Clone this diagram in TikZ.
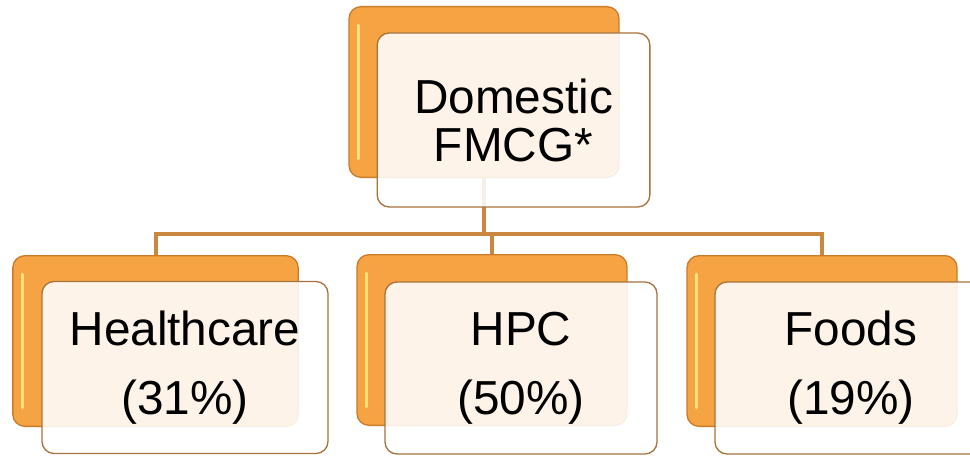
\documentclass[tikz,border=0pt]{standalone}
\usepackage{fontspec}
\setmainfont{Liberation Sans}
\definecolor{boxorange}{HTML}{F6A443}
\definecolor{orangeedge}{HTML}{C97B2A}
\definecolor{frontedge}{HTML}{A8733C}
\definecolor{linkbrown}{HTML}{C9873F}
\definecolor{glowyellow}{HTML}{FFE27A}

\begin{document}
\begin{tikzpicture}[x=0.75pt,y=-0.75pt,
    backbox/.style={draw=orangeedge, line width=1pt, fill=boxorange,
      rounded corners=9pt, minimum width=202.5pt, minimum height=128pt,
      path picture={\draw[glowyellow, line width=2.5pt, line cap=round]
        ([xshift=7pt,yshift=-14pt]path picture bounding box.north west) --
        ([xshift=7pt,yshift=14pt]path picture bounding box.south west);}},
    frontbox/.style={draw=frontedge, line width=1pt, fill=white,
      fill opacity=0.88, text opacity=1, rounded corners=9pt,
      minimum width=204pt, minimum height=129pt, align=center,
      font=\fontsize{35.8}{51.75}\selectfont},
    link/.style={draw=linkbrown, line width=3pt}]
  \useasboundingbox (0,0) rectangle (970,456);
  \clip (0,0) rectangle (970,456);

  % back boxes
  \node[backbox] (dombk) at (484,92) {};
  \node[backbox, minimum width=214pt] (hcbk) at (155.5,341) {};
  \node[backbox] (hpcbk) at (492,340) {};
  \node[backbox] (fdbk) at (822,341) {};

  % connectors
  \coordinate (bar) at (484,234);
  \draw[link] (dombk.south) -- (bar);
  \draw[link] (hcbk.north) |- (bar) -| (fdbk.north);
  \draw[link] (hpcbk.north) -- (hpcbk.north |- bar);

  % front boxes
  \node[frontbox, minimum width=204.5pt, minimum height=130.5pt,
    font=\fontsize{35.8}{36}\selectfont] (domfr) at (513.5,120) {Domestic\\FMCG*};
  \node[frontbox, minimum width=214.5pt] (hcfr) at (185,367.5) {Healthcare\\(31\%)};
  \node[frontbox] (hpcfr) at (521,368) {HPC\\(50\%)};
  \node[frontbox] (fdfr) at (851,368) {Foods\\(19\%)};
\end{tikzpicture}
\end{document}
